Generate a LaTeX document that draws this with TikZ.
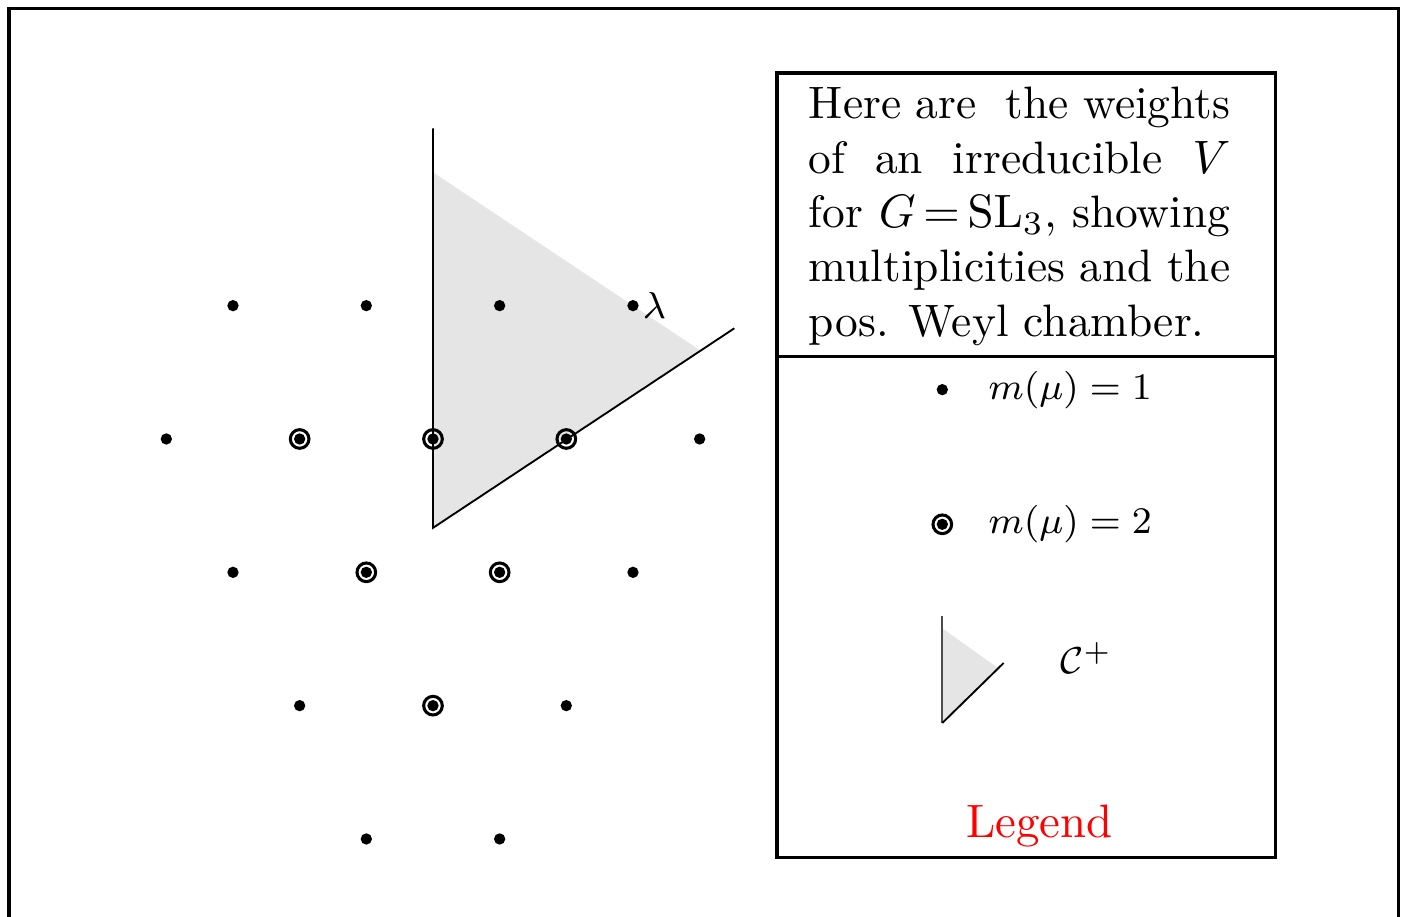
\documentclass[tikz,border=0pt]{standalone}
\usepackage{amsmath, amssymb}
\definecolor{chamberGray}{gray}{0.9}

\begin{document}
\begin{tikzpicture}[
    wt/.style={circle, fill, inner sep=0pt, minimum size=0.085cm},
    wtring/.style={circle, draw, line width=0.65pt, inner sep=0pt, minimum size=0.14cm},
    frame/.style={line width=0.7pt},
    keytext/.style={font=\footnotesize}
  ]
        \useasboundingbox (-3.2475,-3.585) rectangle (7.275,3.2925);
        \draw[frame] (-3.18,-3.8) rectangle (7.24,3.23);

        % positive Weyl chamber
        \fill[chamberGray] (0,2) -- (0,-2/3) -- (2,2/3) -- cycle;
        \coordinate (ctop) at (0,2.33);
        \coordinate (cbot) at (0,-2/3);
        \coordinate (cend) at (2.26,0.83);
        \draw (ctop) -- (cbot) -- (cend);

        % weights
        \foreach \x/\y [count=\i] in {-1.5/1,-0.5/1,0.5/1,1.5/1,-2/0,-1/0,0/0,1/0,2/0,
            -1.5/-1,-0.5/-1,0.5/-1,1.5/-1,-1/-2,0/-2,1/-2,-0.5/-3,0.5/-3}
          \node[wt] (w\i) at (\x,\y) {};
        \foreach \x/\y [count=\i] in {-1/0,0/0,1/0,-0.5/-1,0.5/-1,0/-2}
          \node[wtring] (r\i) at (\x,\y) {};
        \node[anchor=west, inner sep=0.5pt, keytext] (lam) at (w4.east) {$\lambda$};

        % legend box
        \draw[frame] (2.58,2.745) rectangle (6.32,-3.14);
        \draw[frame] (2.58,0.62) -- (6.32,0.62);
        \node[anchor=north west, inner sep=0pt, text width=3.16cm, align=justify,
              font=\fontsize{9.7pt}{11.6pt}\selectfont] (txt) at (2.8125,2.645)
          {\hyphenpenalty=10000 Here are \ the weights of an irreducible $V$ for $G\,{=}\,\mathrm{SL}_3$, showing multiplicities and the pos. Weyl chamber.};

        \node[wt] (k1) at (3.82,0.37) {};
        \node[keytext] (k1t) at (4.78,0.37) {$m(\mu)=1$};
        \node[wt] (k2) at (3.82,-0.64) {};
        \node[wtring] at (k2) {};
        \node[keytext] (k2t) at (4.78,-0.64) {$m(\mu)=2$};
        \fill[chamberGray] (3.82,-1.42) -- (3.82,-2.13) -- (4.24,-1.72) -- cycle;
        \draw[black!70] (3.82,-1.33) -- (3.82,-2.13);
        \draw (3.82,-2.13) -- (4.28,-1.68);
        \node[keytext] (k3t) at (4.9,-1.64) {$\mathcal{C}^+$};
        \node[red] (leg) at (4.55,-2.9) {Legend};
      \end{tikzpicture}
\end{document}
